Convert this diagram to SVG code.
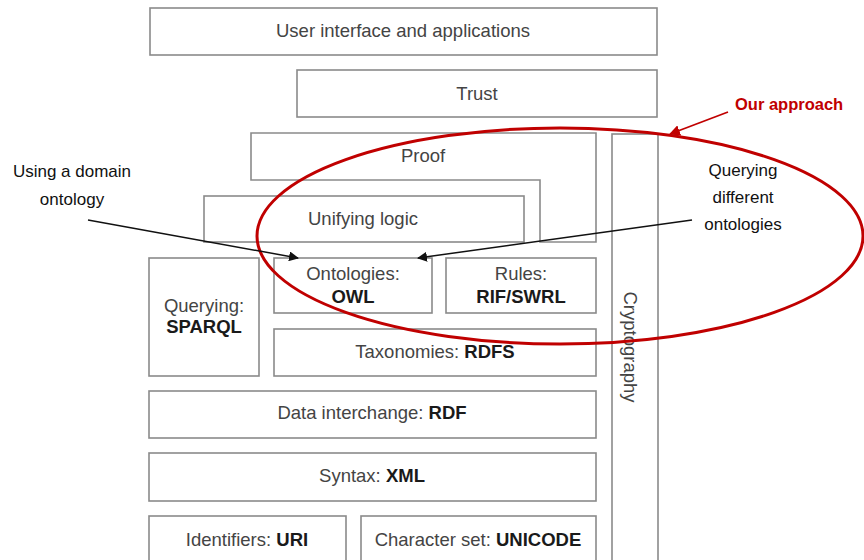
<svg xmlns="http://www.w3.org/2000/svg" width="864" height="560" viewBox="0 0 864 560">
<style>
.box{fill:#fff;stroke:#8a8a8a;stroke-width:1.6}
.t{font-family:"Liberation Sans",Arial,sans-serif;font-size:18.5px;fill:#444;text-anchor:middle}
.b{font-weight:bold;fill:#1a1a1a}
.c{font-family:"Liberation Sans",Arial,sans-serif;font-size:17px;fill:#111;text-anchor:middle}
.red{font-family:"Liberation Sans",Arial,sans-serif;font-size:16.5px;font-weight:bold;fill:#c00000}
.arr{stroke:#111;stroke-width:1.5;fill:none}
</style>
<defs>
<marker id="ah" viewBox="0 0 10 10" refX="9" refY="5" markerWidth="10" markerHeight="10" markerUnits="userSpaceOnUse" orient="auto"><path d="M0,0 L10,5 L0,10 z" fill="#111"/></marker>
<marker id="ahr" viewBox="0 0 10 10" refX="9" refY="5" markerWidth="11" markerHeight="11" markerUnits="userSpaceOnUse" orient="auto"><path d="M0,0 L10,5 L0,10 z" fill="#c00000"/></marker>
</defs>
<rect width="864" height="560" fill="#fff"/>
<g id="ui"><rect class="box" x="150" y="8" width="507" height="47"/><text class="t" x="403" y="37">User interface and applications</text></g>
<g id="trust"><rect class="box" x="297" y="70" width="360" height="47"/><text class="t" x="477" y="100">Trust</text></g>
<g id="proof"><path class="box" d="M251,133 H596 V242 H540 V180 H251 Z"/><text class="t" x="423" y="162">Proof</text></g>
<g id="logic"><rect class="box" x="204" y="196" width="320" height="46"/><text class="t" x="363" y="225">Unifying logic</text></g>
<g id="crypto"><rect class="box" x="612" y="134" width="46" height="440"/><text class="t" transform="translate(624,347) rotate(90)">Cryptography</text></g>
<g id="sparql"><rect class="box" x="149" y="258" width="110" height="118"/><text class="t" x="204" y="312">Querying:</text><text class="t b" x="204" y="333">SPARQL</text></g>
<g id="owl"><rect class="box" x="274" y="258" width="158" height="55"/><text class="t" x="353" y="280">Ontologies:</text><text class="t b" x="353" y="303">OWL</text></g>
<g id="rules"><rect class="box" x="446" y="258" width="150" height="55"/><text class="t" x="521" y="280">Rules:</text><text class="t b" x="521" y="303">RIF/SWRL</text></g>
<g id="rdfs"><rect class="box" x="274" y="329" width="322" height="47"/><text class="t" x="435" y="358">Taxonomies: <tspan class="b">RDFS</tspan></text></g>
<g id="rdf"><rect class="box" x="149" y="391" width="447" height="47"/><text class="t" x="372" y="419">Data interchange: <tspan class="b">RDF</tspan></text></g>
<g id="xml"><rect class="box" x="149" y="453" width="447" height="48"/><text class="t" x="372" y="482">Syntax: <tspan class="b">XML</tspan></text></g>
<g id="uri"><rect class="box" x="149" y="516" width="197" height="60"/><text class="t" x="247" y="546">Identifiers: <tspan class="b">URI</tspan></text></g>
<g id="unicode"><rect class="box" x="361" y="516" width="235" height="60"/><text class="t" x="478" y="546">Character set: <tspan class="b">UNICODE</tspan></text></g>
<g id="approach"><ellipse cx="560" cy="236" rx="303" ry="108" fill="none" stroke="#c00000" stroke-width="3"/><text class="red" x="735" y="110">Our approach</text></g>
<g id="note-left"><text class="c" x="72" y="177">Using a domain</text><text class="c" x="72" y="205">ontology</text></g>
<g id="note-right"><text class="c" x="743" y="176">Querying</text><text class="c" x="743" y="203">different</text><text class="c" x="743" y="230">ontologies</text></g>
<g id="connectors">
<line class="arr" x1="88" y1="220" x2="298" y2="258" marker-end="url(#ah)"/>
<line class="arr" x1="692" y1="220" x2="418" y2="258" marker-end="url(#ah)"/>
<line x1="728" y1="112" x2="670" y2="134" stroke="#c00000" stroke-width="1.8" marker-end="url(#ahr)"/>
</g>
</svg>
